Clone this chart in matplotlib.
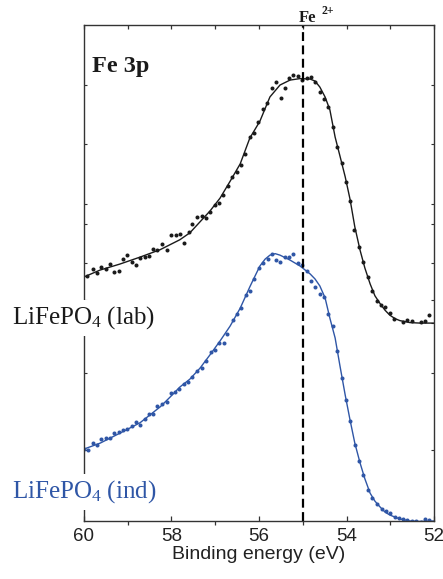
import numpy as np
import matplotlib
matplotlib.use('Agg')
import matplotlib.pyplot as plt
from matplotlib.ticker import MultipleLocator

plt.rcParams['font.family'] = 'Liberation Sans'
plt.rcParams['mathtext.fontset'] = 'custom'
plt.rcParams['mathtext.rm'] = 'Liberation Serif'
plt.rcParams['mathtext.it'] = 'Liberation Serif:italic'
plt.rcParams['mathtext.bf'] = 'Liberation Serif:bold'

# LiFePO4 (lab) - measured points
lab_E = [59.92, 59.80, 59.70, 59.61, 59.50, 59.41, 59.31, 59.21, 59.11, 59.01,
         58.90, 58.81, 58.72, 58.61, 58.51, 58.42, 58.32, 58.21, 58.11, 58.01,
         57.90, 57.80, 57.71, 57.61, 57.52, 57.41, 57.31, 57.21, 57.12, 57.01,
         56.91, 56.82, 56.71, 56.61, 56.51, 56.42, 56.31, 56.21, 56.11, 56.02,
         55.90, 55.82, 55.71, 55.61, 55.50, 55.41, 55.31, 55.22, 55.12, 55.02,
         54.91, 54.81, 54.71, 54.61, 54.51, 54.42, 54.32, 54.21, 54.11, 54.01,
         53.92, 53.82, 53.71, 53.62, 53.52, 53.41, 53.31, 53.21, 53.11, 53.01,
         52.91, 52.71, 52.61, 52.51, 52.30, 52.21, 52.11]
lab_I = [49.3, 50.9, 50.1, 51.3, 50.8, 51.8, 50.3, 50.5, 52.9, 53.7,
         52.2, 51.6, 53.1, 53.2, 53.4, 54.9, 54.6, 55.8, 54.6, 57.6,
         57.6, 57.8, 56.1, 58.2, 59.9, 61.2, 61.5, 61.0, 62.2, 63.8,
         64.1, 65.7, 67.6, 69.4, 70.4, 71.8, 74.0, 77.5, 78.3, 80.5,
         83.1, 84.2, 87.2, 88.5, 85.3, 87.4, 89.3, 89.9, 89.7, 88.9,
         89.3, 89.5, 88.5, 86.4, 85.0, 83.5, 79.5, 75.5, 72.2, 68.4,
         64.6, 58.7, 55.2, 52.3, 49.1, 46.4, 44.4, 43.5, 43.2, 42.0,
         40.8, 40.1, 40.5, 40.3, 40.1, 40.3, 41.5]

# LiFePO4 (lab) - fit
lab_fit_E = [60.00, 59.63, 59.18, 58.72, 58.26, 57.81, 57.58, 57.35, 57.12, 56.89,
             56.66, 56.43, 56.21, 55.98, 55.75, 55.52, 55.29, 55.06, 54.83, 54.72,
             54.61, 54.49, 54.38, 54.26, 54.15, 54.03, 53.92, 53.81, 53.69, 53.58,
             53.46, 53.35, 53.23, 53.12, 53.01, 52.89, 52.78, 52.55, 52.32, 52.00]
lab_fit_I = [49.2, 50.6, 51.8, 53.2, 54.7, 56.7, 58.1, 60.3, 62.5, 65.1,
             68.5, 72.0, 77.2, 80.6, 85.5, 87.9, 88.9, 89.2, 89.1, 88.7,
             87.5, 85.5, 82.9, 77.4, 73.6, 69.4, 64.9, 59.3, 54.6, 51.0,
             47.8, 45.4, 43.8, 42.5, 41.5, 40.8, 40.4, 40.0, 39.9, 39.9]

# LiFePO4 (ind) - measured points
ind_E = [60.00, 59.91, 59.80, 59.71, 59.61, 59.50, 59.41, 59.31, 59.21, 59.10,
         59.01, 58.91, 58.81, 58.71, 58.61, 58.51, 58.42, 58.32, 58.22, 58.11,
         58.01, 57.91, 57.82, 57.71, 57.62, 57.52, 57.41, 57.31, 57.21, 57.10,
         57.01, 56.91, 56.81, 56.72, 56.60, 56.51, 56.42, 56.30, 56.21, 56.11,
         56.01, 55.90, 55.80, 55.71, 55.61, 55.51, 55.41, 55.31, 55.22, 55.12,
         55.02, 54.91, 54.81, 54.71, 54.61, 54.51, 54.42, 54.32, 54.21, 54.11,
         54.01, 53.91, 53.81, 53.71, 53.62, 53.50, 53.41, 53.30, 53.20, 53.10,
         53.01, 52.90, 52.81, 52.71, 52.61, 52.51, 52.41, 52.30, 52.21, 52.11]
ind_I = [14.5, 14.3, 15.8, 15.3, 16.5, 16.8, 16.7, 17.8, 18.0, 18.4,
         18.5, 19.2, 20.0, 19.4, 20.6, 21.6, 21.6, 23.2, 23.6, 23.9,
         25.9, 26.1, 26.7, 27.6, 28.1, 29.1, 30.2, 30.8, 32.3, 34.1,
         34.5, 35.8, 35.8, 37.8, 40.5, 41.7, 42.9, 45.6, 46.4, 48.7,
         51.1, 52.0, 52.8, 53.8, 52.6, 52.2, 53.2, 53.3, 53.8, 52.0,
         51.6, 50.5, 48.4, 47.2, 45.7, 45.1, 41.7, 39.3, 34.3, 28.9,
         24.4, 20.2, 15.3, 12.0, 9.2, 6.3, 4.6, 3.4, 2.5, 2.1,
         1.6, 0.8, 0.6, 0.3, 0.1, -0.1, -0.1, -0.2, 0.3, 0.1]

# LiFePO4 (ind) - fit
ind_fit_E = [60.00, 59.63, 59.18, 58.72, 58.26, 58.03, 57.81, 57.58, 57.35, 57.12,
             56.89, 56.66, 56.43, 56.21, 56.09, 55.98, 55.86, 55.75, 55.63, 55.52,
             55.29, 55.06, 54.83, 54.72, 54.61, 54.49, 54.38, 54.26, 54.15, 54.03,
             53.92, 53.81, 53.69, 53.58, 53.46, 53.35, 53.23, 53.12, 53.01, 52.78,
             52.55, 52.32, 52.00]
ind_fit_I = [14.5, 15.7, 17.7, 19.8, 23.0, 25.0, 27.0, 28.6, 30.8, 33.5,
             36.3, 39.3, 42.9, 47.2, 49.4, 51.4, 52.8, 53.6, 53.9, 53.6,
             52.6, 51.4, 49.8, 48.8, 47.4, 45.0, 40.9, 36.9, 31.3, 25.4,
             20.4, 15.7, 11.7, 8.5, 5.6, 4.0, 2.8, 1.8, 1.2, 0.4,
             0.0, -0.1, 0.0]

# leftover tick marks on the intensity axis
y_marks = [14.3, 29.8, 39.9, 44.6, 52.0, 59.9, 63.9, 76.0, 87.9]

blue = '#2f56a6'
dark = '#1a1a1a'

fig = plt.figure(figsize=(4.43, 5.79), dpi=100)
ax = fig.add_axes([0.1896, 0.1002, 0.7901, 0.8566])

ax.plot(lab_E, lab_I, 'o', ms=2.9, color=dark, mec='none')
ax.plot(lab_fit_E, lab_fit_I, '-', lw=1.0, color=dark)
ax.plot(ind_E, ind_I, 'o', ms=2.9, color=blue, mec='none')
ax.plot(ind_fit_E, ind_fit_I, '-', lw=1.0, color=blue)

ax.axvline(55, color='black', lw=1.6, ls=(0, (4, 2)))

ax.set_xlim(60, 52)
ax.set_ylim(0, 100)

for s in ax.spines.values():
    s.set_color('#333333')
    s.set_linewidth(1.0)

ax.xaxis.set_major_locator(MultipleLocator(2))
ax.xaxis.set_minor_locator(MultipleLocator(1))
ax.tick_params(axis='x', which='major', direction='in', length=3.5, width=0.9,
               color='#333333', labelsize=13.5, labelcolor='#222222', pad=5)
ax.tick_params(axis='x', which='minor', direction='out', length=3, width=0.9,
               color='#333333')
top = ax.secondary_xaxis('top')
top.set_xticks(np.arange(52, 61, 1))
top.tick_params(direction='in', length=3, width=0.9, color='#333333', labeltop=False)
top.spines['top'].set_visible(False)

ax.set_yticks(y_marks)
ax.set_yticklabels([])
ax.tick_params(axis='y', direction='in', length=2.5, width=0.8, color='#333333',
               left=True, right=True)

ax.set_xlabel('Binding energy (eV)', fontsize=14, color='#222222', labelpad=1)

ax.text(0.022, 0.905, 'Fe 3p', transform=ax.transAxes, fontsize=17.5,
        fontweight='bold', family='Liberation Serif', color=dark, va='baseline')

fig.text(299 / 443, 1 - 22 / 579, 'Fe', fontsize=12, fontweight='bold',
         family='Liberation Serif', color=dark, va='baseline')
fig.text(321 / 443, 1 - 14 / 579, '2+', fontsize=8.5, fontweight='bold',
         family='Liberation Serif', color=dark, va='baseline')

box = dict(facecolor='white', edgecolor='none', pad=3)
fig.text(12 / 443, 1 - 324 / 579, r'LiFePO$_4$ (lab)', fontsize=18,
         family='Liberation Serif', color=dark, va='baseline', bbox=box)
fig.text(12 / 443, 1 - 498 / 579, r'LiFePO$_4$ (ind)', fontsize=18,
         family='Liberation Serif', color=blue, va='baseline', bbox=box)

fig.savefig('out.png', dpi=100)
